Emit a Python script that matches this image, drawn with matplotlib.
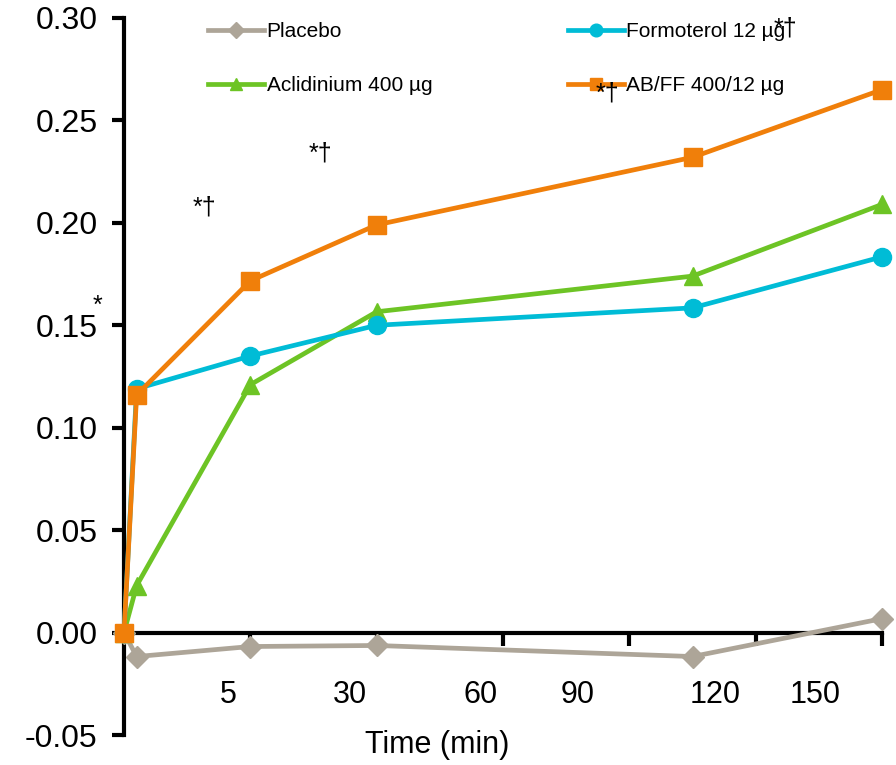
import matplotlib.pyplot as plt

plt.rcParams['font.family'] = ['Liberation Sans', 'DejaVu Sans']

# time points (min, plotted on a 0-180 axis)
t = [0, 3, 30, 60, 135, 180]
placebo = [0.0, -0.0117, -0.0068, -0.0063, -0.0117, 0.0068]
formoterol = [0.0, 0.119, 0.135, 0.150, 0.1585, 0.1834]
aclidinium = [0.0, 0.0229, 0.121, 0.1566, 0.174, 0.209]
abff = [0.0, 0.116, 0.1717, 0.199, 0.232, 0.265]

xtick_labels = ['5', '30', '60', '90', '120', '150']
xtick_label_pos = [24.7, 53.7, 84.6, 107.6, 140.4, 164.1]

# significance marks
marks = ['*', '*\u2020', '*\u2020', '*\u2020', '*\u2020']
mark_x = [-6.2, 19.2, 46.6, 114.7, 157.0]
mark_y = [0.1595, 0.2073, 0.2337, 0.263, 0.295]

fig = plt.figure(figsize=(8.96, 7.65), dpi=100)
ax = fig.add_axes([0.1384, 0.0392, 0.846, 0.9373])

lw = 3.4
ax.plot(t, placebo, color='#ADA598', lw=lw, marker='D', ms=11, label='Placebo', clip_on=False, zorder=3)
ax.plot(t, aclidinium, color='#6DC425', lw=lw, marker='^', ms=13, label='Aclidinium 400 \u00b5g', clip_on=False, zorder=4)
ax.plot(t, formoterol, color='#00BCD6', lw=lw, marker='o', ms=13, label='Formoterol 12 \u00b5g', clip_on=False, zorder=4)
ax.plot(t, abff, color='#F07F0A', lw=lw, marker='s', ms=13, label='AB/FF 400/12 \u00b5g', clip_on=False, zorder=5)

ax.set_xlim(0, 180)
ax.set_ylim(-0.05, 0.30)
ax.spines['top'].set_visible(False)
ax.spines['right'].set_visible(False)
ax.spines['left'].set_linewidth(3)
ax.spines['bottom'].set_linewidth(3)
ax.spines['bottom'].set_position(('data', 0))

ax.set_yticks([-0.05, 0, 0.05, 0.10, 0.15, 0.20, 0.25, 0.30])
ax.set_yticklabels(['-0.05', '0.00', '0.05', '0.10', '0.15', '0.20', '0.25', '0.30'])
ax.tick_params(axis='y', direction='out', length=9, width=3, labelsize=23, pad=10)
ax.set_xticks([30, 60, 90, 120, 150, 180])
ax.set_xticklabels([])
ax.tick_params(axis='x', direction='out', length=9, width=3)

for lab, xp in zip(xtick_labels, xtick_label_pos):
    ax.text(xp, -0.0307, lab, ha='center', va='center', fontsize=22, clip_on=False)
ax.text(74.3, -0.0551, 'Time (min)', ha='center', va='center', fontsize=22, clip_on=False)

ax.legend(ncol=2, frameon=False,
          loc='upper left', bbox_to_anchor=(0.211, 0.996), bbox_transform=fig.transFigure,
          fontsize=15, handlelength=2.7, handletextpad=0.12, columnspacing=6.5,
          labelspacing=1.68, markerscale=0.7)

# stars drawn above the legend
for m, xm, ym in zip(marks, mark_x, mark_y):
    ax.text(xm, ym, m, ha='center', va='center', fontsize=18, clip_on=False, zorder=10)

fig.savefig('out.png', dpi=100)
